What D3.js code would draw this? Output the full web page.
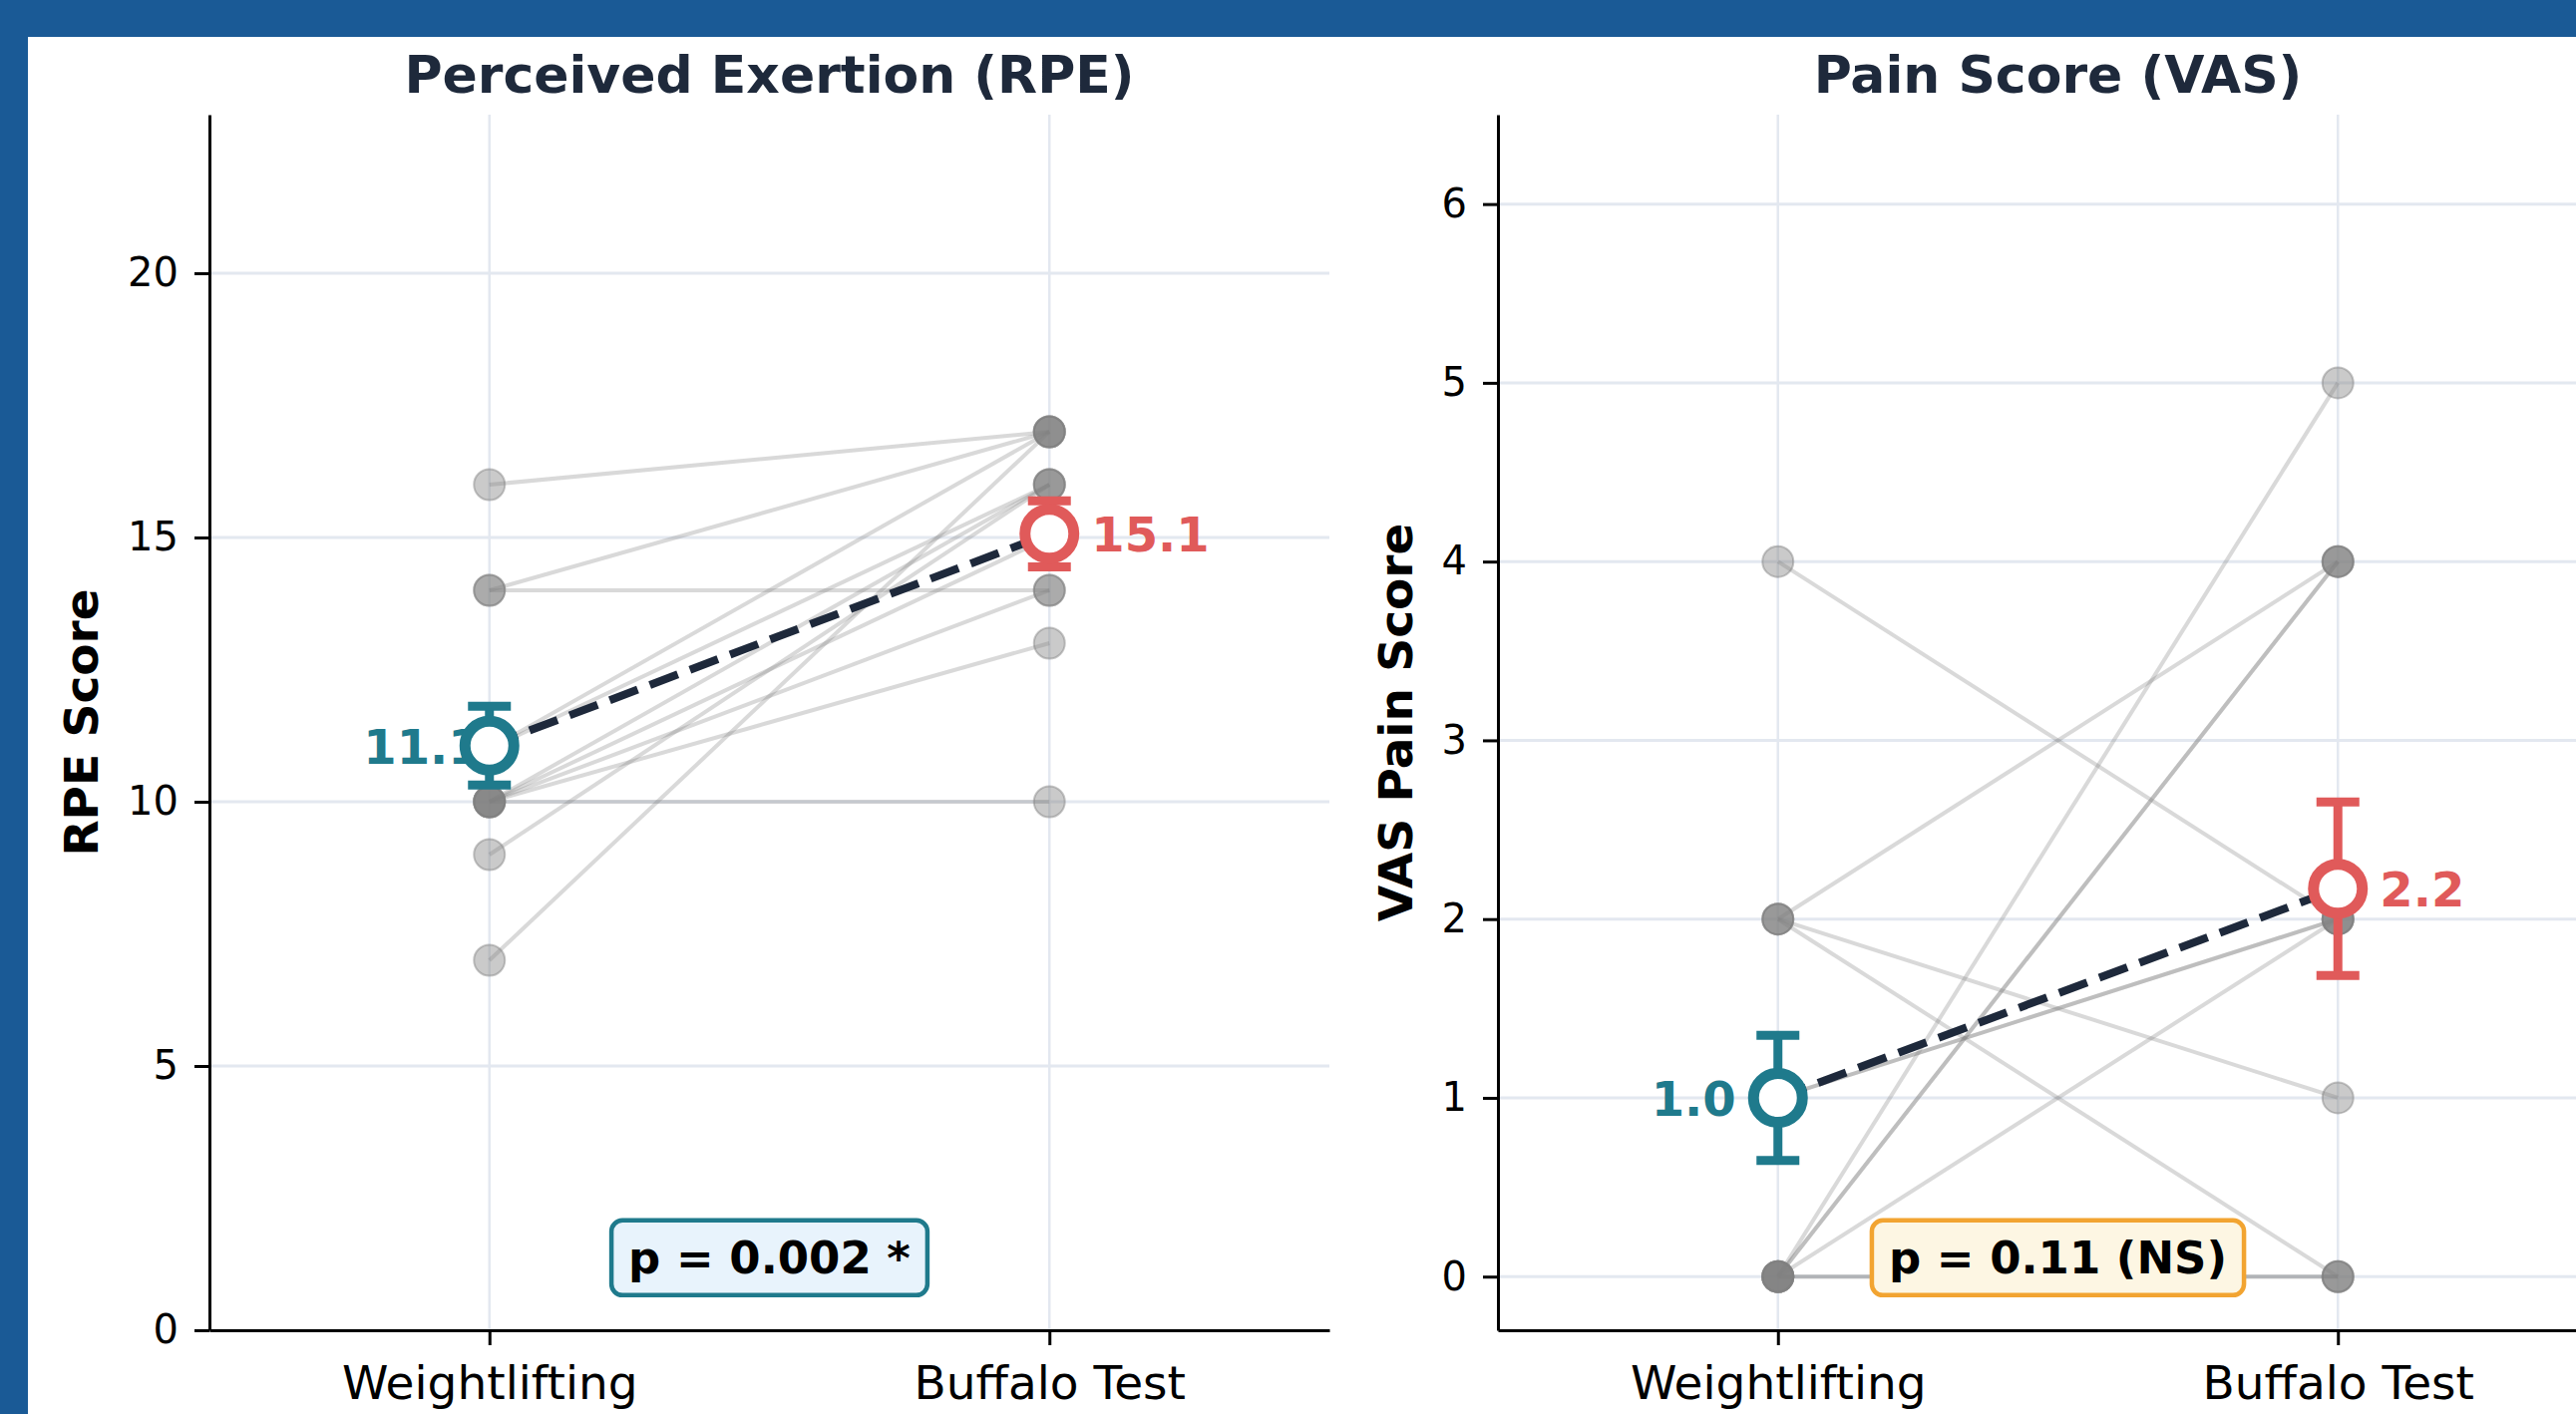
<!DOCTYPE html>
<html>
<head>
<meta charset="utf-8">
<script src="https://cdn.jsdelivr.net/npm/d3@7"></script>
<style>
  html, body { margin: 0; padding: 0; background: #1a5a96; overflow: hidden; }
  svg { display: block; font-family: "DejaVu Sans", sans-serif; }
</style>
</head>
<body>
<div id="chart"></div>
<script>
const conditions = ['Weightlifting', 'Buffalo Test'];

// paired scores, one entry per participant
const rpeWeightlifting = [16, 14, 14, 11, 11, 10, 10, 10, 10, 10, 9, 7];
const rpeBuffalo       = [17, 17, 14, 17, 16, 16, 15, 14, 13, 10, 16, 17];
const vasWeightlifting = [4, 2, 2, 2, 1, 1, 0, 0, 0, 0, 0, 0];
const vasBuffalo       = [2, 4, 1, 0, 2, 2, 5, 4, 4, 2, 0, 0];

// group means and standard errors
const rpeMeans = [11.06, 15.07];
const rpeSem = [0.745, 0.625];
const vasMeans = [1.0, 2.17];
const vasSem = [0.35, 0.485];

const rpeTicks = [0, 5, 10, 15, 20];
const vasTicks = [0, 1, 2, 3, 4, 5, 6];
const rpeDomain = [0, 23];
const vasDomain = [-0.3, 6.5];

const rpeP = 'p = 0.002 *';
const vasP = 'p = 0.11 (NS)';

const width = 2583;
const height = 1418;
const plotTop = 115;
const plotBottom = 1334;
const plotWidth = 1123;

const colors = ['#1f7a8c', '#e05a5a'];

const panels = [
    { title: 'Perceived Exertion (RPE)', yLabel: 'RPE Score', left: 210,
      wl: rpeWeightlifting, bt: rpeBuffalo, means: rpeMeans, sem: rpeSem,
      ticks: rpeTicks, domain: rpeDomain, p: rpeP,
      boxFill: '#e8f3fc', boxStroke: '#1f7a8c', labelGap: 8 },
    { title: 'Pain Score (VAS)', yLabel: 'VAS Pain Score', left: 1502,
      wl: vasWeightlifting, bt: vasBuffalo, means: vasMeans, sem: vasSem,
      ticks: vasTicks, domain: vasDomain, p: vasP,
      boxFill: '#fdf6e3', boxStroke: '#f2a431', labelGap: 42 }
];

const svg = d3.select('#chart').append('svg')
    .attr('width', width)
    .attr('height', height);

svg.append('rect')
    .attr('x', 28).attr('y', 37)
    .attr('width', width).attr('height', height)
    .attr('fill', 'white');

function drawPanel(panel) {
    const h = plotBottom - plotTop;

    const x = d3.scalePoint()
        .domain(conditions)
        .range([0, plotWidth])
        .padding(0.5);

    const y = d3.scaleLinear()
        .domain(panel.domain)
        .range([h, 0]);

    const g = svg.append('g')
        .attr('transform', `translate(${panel.left},${plotTop})`);

    // grid
    g.append('g').selectAll('line')
        .data(panel.ticks)
        .enter().append('line')
        .attr('x1', 0).attr('x2', plotWidth)
        .attr('y1', d => y(d)).attr('y2', d => y(d))
        .attr('stroke', '#e3e8f0').attr('stroke-width', 3);
    g.append('g').selectAll('line')
        .data(conditions)
        .enter().append('line')
        .attr('x1', d => x(d)).attr('x2', d => x(d))
        .attr('y1', 0).attr('y2', h)
        .attr('stroke', '#e3e8f0').attr('stroke-width', 2.5);

    // left mean label sits under the markers
    g.append('text')
        .attr('x', x(conditions[0]) - panel.labelGap)
        .attr('y', y(panel.means[0]) + 18)
        .attr('text-anchor', 'end')
        .attr('font-size', 48).attr('font-weight', 'bold')
        .attr('fill', colors[0])
        .text(panel.means[0].toFixed(1));

    // participant lines
    const pairs = panel.wl.map((v, i) => [v, panel.bt[i]]);
    g.append('g').selectAll('line')
        .data(pairs)
        .enter().append('line')
        .attr('x1', x(conditions[0])).attr('x2', x(conditions[1]))
        .attr('y1', d => y(d[0])).attr('y2', d => y(d[1]))
        .attr('stroke', '#808080')
        .attr('stroke-opacity', 0.3)
        .attr('stroke-width', 4);

    // participant points
    const pts = [];
    pairs.forEach(d => {
        pts.push({ c: conditions[0], v: d[0] });
        pts.push({ c: conditions[1], v: d[1] });
    });
    g.append('g').selectAll('circle')
        .data(pts)
        .enter().append('circle')
        .attr('cx', d => x(d.c))
        .attr('cy', d => y(d.v))
        .attr('r', 15.5)
        .attr('fill', '#808080')
        .attr('fill-opacity', 0.42)
        .attr('stroke', '#808080')
        .attr('stroke-opacity', 0.45)
        .attr('stroke-width', 2);

    // mean connecting line
    g.append('line')
        .attr('x1', x(conditions[0])).attr('y1', y(panel.means[0]))
        .attr('x2', x(conditions[1])).attr('y2', y(panel.means[1]))
        .attr('stroke', '#1e293b')
        .attr('stroke-width', 8)
        .attr('stroke-dasharray', '30,13');

    // error bars and mean markers
    conditions.forEach((c, i) => {
        const cx = x(c);
        const hi = y(panel.means[i] + panel.sem[i]);
        const lo = y(panel.means[i] - panel.sem[i]);
        const eb = g.append('g')
            .attr('stroke', colors[i])
            .attr('stroke-width', 9);
        eb.append('line').attr('x1', cx).attr('x2', cx).attr('y1', hi).attr('y2', lo);
        eb.append('line').attr('x1', cx - 21.5).attr('x2', cx + 21.5).attr('y1', hi).attr('y2', hi);
        eb.append('line').attr('x1', cx - 21.5).attr('x2', cx + 21.5).attr('y1', lo).attr('y2', lo);

        g.append('circle')
            .attr('cx', cx)
            .attr('cy', y(panel.means[i]))
            .attr('r', 24.5)
            .attr('fill', 'white')
            .attr('stroke', colors[i])
            .attr('stroke-width', 11);
    });

    g.append('text')
        .attr('x', x(conditions[1]) + 42)
        .attr('y', y(panel.means[1]) + 18)
        .attr('text-anchor', 'start')
        .attr('font-size', 48).attr('font-weight', 'bold')
        .attr('fill', colors[1])
        .text(panel.means[1].toFixed(1));

    // axes
    const yAxis = g.append('g')
        .call(d3.axisLeft(y).tickValues(panel.ticks).tickFormat(d3.format('d'))
            .tickSize(15).tickSizeOuter(0).tickPadding(16));
    yAxis.select('.domain').attr('stroke-width', 3).attr('stroke', 'black');
    yAxis.selectAll('.tick line').attr('stroke-width', 3).attr('stroke', 'black');
    yAxis.selectAll('text').attr('font-size', 40).attr('fill', 'black')
        .attr('font-family', '"DejaVu Sans", sans-serif');

    const xAxis = g.append('g')
        .attr('transform', `translate(0,${h})`)
        .call(d3.axisBottom(x).tickSize(15).tickSizeOuter(0));
    xAxis.select('.domain').attr('stroke-width', 3).attr('stroke', 'black');
    xAxis.selectAll('.tick line').attr('stroke-width', 3).attr('stroke', 'black');
    xAxis.selectAll('text').attr('font-size', 47).attr('fill', 'black')
        .attr('font-family', '"DejaVu Sans", sans-serif')
        .attr('dy', null).attr('y', 69);

    // y label placed left of the widest tick label
    let minX = 0;
    yAxis.selectAll('.tick text').each(function () {
        const b = this.getBBox();
        minX = Math.min(minX, b.x);
    });
    g.append('text')
        .attr('transform', `translate(${minX - 30},${h / 2}) rotate(-90)`)
        .attr('text-anchor', 'middle')
        .attr('font-size', 47).attr('font-weight', 'bold')
        .attr('fill', 'black')
        .text(panel.yLabel);

    // title
    svg.append('text')
        .attr('x', panel.left + plotWidth / 2)
        .attr('y', 93)
        .attr('text-anchor', 'middle')
        .attr('font-size', 52).attr('font-weight', 'bold')
        .attr('fill', '#1e293b')
        .text(panel.title);

    // p-value box
    const box = g.append('g')
        .attr('transform', `translate(${plotWidth / 2},${h * 0.94})`);
    const rect = box.append('rect');
    const label = box.append('text')
        .attr('text-anchor', 'middle')
        .attr('y', 16)
        .attr('font-size', 45).attr('font-weight', 'bold')
        .attr('fill', 'black')
        .text(panel.p);
    const bb = label.node().getBBox();
    rect.attr('x', bb.x - 17).attr('width', bb.width + 34)
        .attr('y', -37).attr('height', 75)
        .attr('rx', 11)
        .attr('fill', panel.boxFill)
        .attr('stroke', panel.boxStroke)
        .attr('stroke-width', 4.5);
}

panels.forEach(drawPanel);
</script>
</body>
</html>
